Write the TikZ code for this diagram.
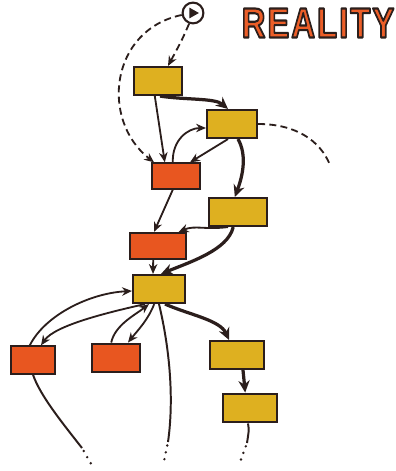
\documentclass[tikz,border=0pt]{standalone}
\usepackage{fontspec}
\newfontfamily\titlefont[LetterSpace=6]{Liberation Sans}
\usetikzlibrary{arrows.meta}

\definecolor{ink}{RGB}{43,30,28}
\definecolor{gold}{RGB}{222,176,32}
\definecolor{rust}{RGB}{232,86,32}
\definecolor{titleorange}{RGB}{236,94,40}

\begin{document}
\begin{tikzpicture}[x=0.025cm, y=-0.025cm,
    box/.style={draw=ink, line width=1.5pt, inner sep=0pt, rectangle},
    goldbox/.style={box, fill=gold},
    redbox/.style={box, fill=rust},
    flow/.style={draw=ink, line width=1.3pt, -{Stealth[length=7pt,width=6pt]}},
    mainflow/.style={draw=ink, line width=2.3pt, -{Stealth[length=8.5pt,width=8pt]}},
    guess/.style={draw=ink, line width=1.3pt, dash pattern=on 5pt off 3pt},
    trail/.style={draw=ink, line width=1.9pt, line cap=round, dash pattern=on 0pt off 5pt, dash phase=2.5pt}]
    \useasboundingbox (0,0) rectangle (395,471);

    % Title
    \node[font=\titlefont\bfseries\fontsize{30}{30}\selectfont, text=titleorange,
          xscale=0.78, transform shape, inner sep=0pt] (title) at (318,23)
          {\special{pdf:literal direct 0.17 0.12 0.11 RG 1.5 w 1 j 2 Tr}REALITY\special{pdf:literal direct 0 Tr}};

    % Start point
    \node[circle, draw=ink, fill=white, line width=1.5pt, minimum size=0.52cm, inner sep=0pt] (start) at (193,13) {};
    \fill[ink] ([shift={(-2.5pt,3.8pt)}]start.center) -- ([shift={(-2.5pt,-3.8pt)}]start.center)
        -- ([shift={(4.2pt,0pt)}]start.center) -- cycle;

    % Boxes
    \node[goldbox, minimum width=1.2cm,  minimum height=0.7cm]  (b1)  at (158,81)  {};
    \node[goldbox, minimum width=1.25cm, minimum height=0.7cm]  (b2)  at (232,124) {};
    \node[redbox,  minimum width=1.22cm, minimum height=0.63cm] (b3)  at (176,176) {};
    \node[goldbox, minimum width=1.45cm, minimum height=0.7cm]  (b4)  at (238,212) {};
    \node[redbox,  minimum width=1.42cm, minimum height=0.65cm] (b5)  at (158,246) {};
    \node[goldbox, minimum width=1.3cm,  minimum height=0.7cm]  (b6)  at (159,289) {};
    \node[redbox,  minimum width=1.08cm, minimum height=0.68cm] (b7)  at (33,360)  {};
    \node[redbox,  minimum width=1.2cm,  minimum height=0.72cm] (b8)  at (116,358) {};
    \node[goldbox, minimum width=1.35cm, minimum height=0.7cm]  (b9)  at (237,355) {};
    \node[goldbox, minimum width=1.35cm, minimum height=0.72cm] (b10) at (250,408) {};

    % Loose ends
    \coordinate (open) at (330,165);
    \coordinate (tail1) at (82,448);  \coordinate (dots1) at (94,469);
    \coordinate (tail2) at (168,442); \coordinate (dots2) at (164,461);
    \coordinate (tail3) at (247,443); \coordinate (dots3) at (240,462);

    % Dashed guesses
    \draw[guess, -{Stealth[length=7pt,width=6pt]}] (start.250) .. controls (182,40) .. ([xshift=0.25cm]b1.north);
    \draw[guess, -{Stealth[length=7pt,width=6pt]}] (start.190) .. controls (110,30) and (100,120) .. ([xshift=-0.55cm]b3.north);
    \draw[guess] (b2.east) .. controls (295,124) and (320,140) .. (open);

    % Upper flow
    \draw[flow] ([xshift=-0.08cm]b1.south) -- ([xshift=-0.28cm]b3.north);
    \draw[mainflow] ([xshift=0.05cm]b1.south) .. controls (185,100) and (215,98) .. ([xshift=-0.1cm]b2.north);
    \draw[flow] ([xshift=-0.08cm]b3.north) .. controls (172,140) and (188,128) .. ([yshift=-0.1cm]b2.west);
    \draw[flow] ([xshift=-0.1cm]b2.south) -- ([xshift=0.35cm]b3.north);
    \draw[mainflow] ([xshift=0.15cm]b2.south) .. controls (247,155) and (243,175) .. ([xshift=-0.08cm]b4.north);
    \draw[flow] ([xshift=-0.08cm]b3.south) -- ([xshift=-0.1cm]b5.north);
    \draw[flow] ([xshift=-0.25cm]b4.south) .. controls (205,230) and (195,225) .. ([xshift=-0.22cm]b5.north east);
    \draw[mainflow] ([xshift=-0.12cm]b4.south) .. controls (228,250) and (190,262) .. ([xshift=0.05cm]b6.north);
    \draw[flow] ([xshift=-0.12cm]b5.south) -- ([xshift=-0.15cm]b6.north);

    % Lower flow
    \draw[flow] ([xshift=-0.08cm]b7.north) .. controls (45,315) and (90,293) .. ([yshift=-0.05cm]b6.west);
    \draw[flow] ([xshift=-0.35cm]b6.south) .. controls (110,312) and (55,325) .. ([xshift=0.2cm]b7.north);
    \draw[flow] ([xshift=-0.12cm]b8.north) .. controls (115,325) and (135,315) .. ([xshift=-0.25cm]b6.south);
    \draw[flow] ([xshift=-0.12cm]b6.south) .. controls (148,320) and (138,330) .. ([xshift=0.3cm]b8.north);
    \draw[mainflow] ([xshift=0.15cm]b6.south) .. controls (190,315) and (220,320) .. ([xshift=-0.2cm]b9.north);
    \draw[mainflow] ([xshift=0.15cm]b9.south) -- ([xshift=-0.12cm]b10.north);

    % Open threads
    \draw[draw=ink, line width=1.4pt] (b7.south) .. controls (40,395) and (60,420) .. (tail1);
    \draw[draw=ink, line width=1.4pt] (b6.south) .. controls (170,350) and (174,400) .. (tail2);
    \draw[draw=ink, line width=1.4pt] ([xshift=-0.05cm]b10.south) .. controls (249,430) .. (tail3);
    \draw[trail] (tail1) -- (dots1);
    \draw[trail] (tail2) -- (dots2);
    \draw[trail] (tail3) -- (dots3);
\end{tikzpicture}
\end{document}
